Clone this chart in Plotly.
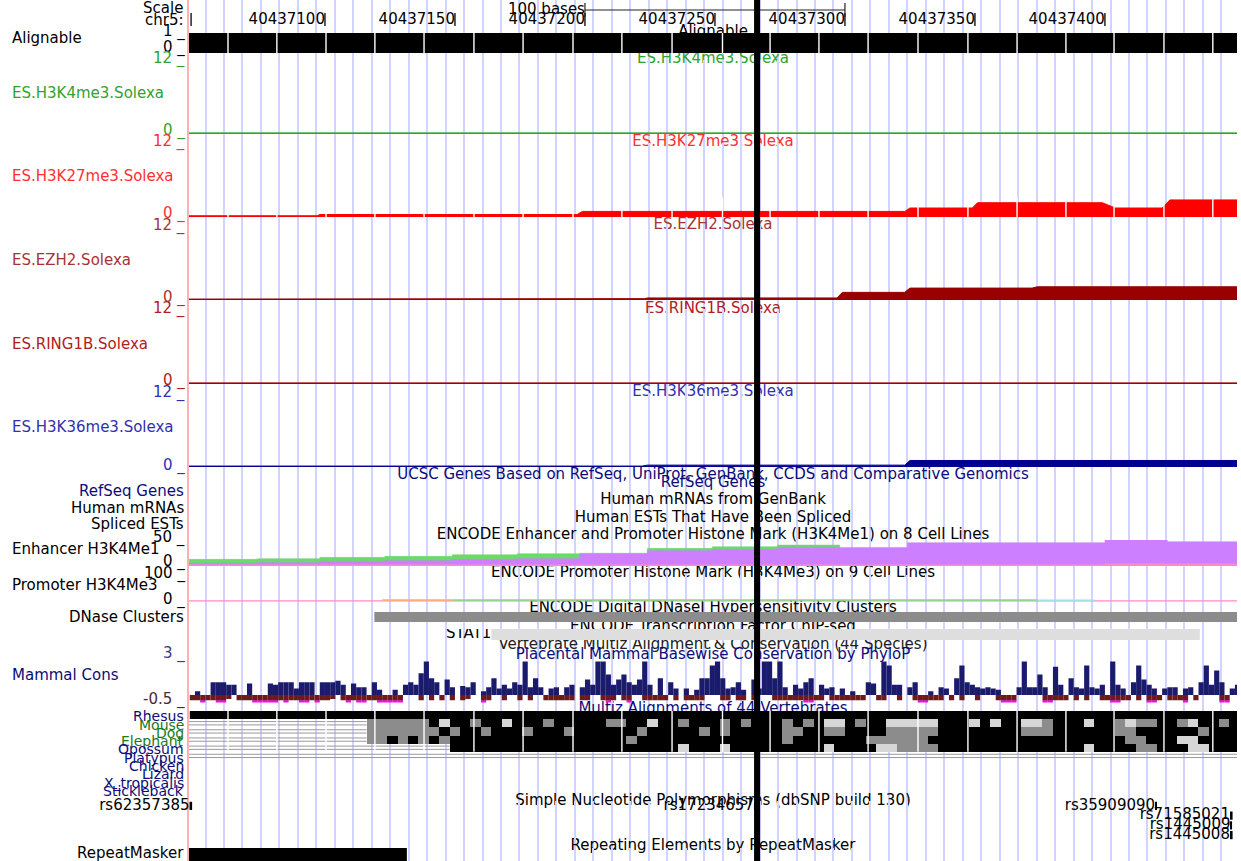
import plotly.graph_objects as go

W, H = 1241, 861
X0, X1 = 40437047.7, 40437450.8          # visible window on chr5 (bp)
PX_L, PX_R = 189, 1237                    # data area (pixels)
XC = (X0 + X1) / 2
FONT = "DejaVu Sans"
FS = 15
FS_SP = 14
GRID0, GRID_STEP = 40437054.05, 7.104     # browser guide lines (bp)

# ------------------------------------------------------------------ data
ruler_ticks = [40437100, 40437150, 40437200, 40437250, 40437300, 40437350, 40437400]
ruler_start = 40437048.5
scale_bar = [40437200, 40437300]
scale_label = "100 bases"

image_seams = [40437062.7, 40437081.5, 40437100.4, 40437119.2, 40437138.1, 40437157.3,
               40437176.2, 40437195.4, 40437214.2, 40437233.5, 40437252.9, 40437271.2,
               40437290.0, 40437308.9, 40437328.1, 40437347.3, 40437366.2, 40437385.0,
               40437403.5, 40437422.7, 40437441.5]

align_start, align_end, align_value = 40437047, 40437452, 1

k4_pos = [40437047, 40437452]
k4_val = [0.18, 0.18]
k27_pos = [40437047, 40437097, 40437098, 40437197, 40437199, 40437323, 40437325,
           40437349, 40437351, 40437399, 40437404, 40437422, 40437425, 40437452]
k27_val = [0.2, 0.2, 0.4, 0.4, 0.9, 0.9, 1.45, 1.45, 2.3, 2.3, 1.45, 1.45, 2.75, 2.75]
ezh2_pos = [40437047, 40437197, 40437198, 40437223, 40437224, 40437297, 40437299,
            40437323, 40437325, 40437372, 40437374, 40437452]
ezh2_val = [0.15, 0.15, 0.22, 0.22, 0.33, 0.33, 1.23, 1.23, 1.92, 1.92, 2.13, 2.13]
ring_pos = [40437047, 40437452]
ring_val = [0.18, 0.18]
k36_pos = [40437047, 40437222, 40437224, 40437323, 40437325, 40437452]
k36_val = [0.15, 0.15, 0.3, 0.3, 1.05, 1.05]

enh_edges = [40437047, 40437074, 40437098, 40437123, 40437149, 40437174, 40437198, 40437224,
             40437249, 40437274, 40437298, 40437324, 40437400, 40437424, 40437452]
enh_purple = [5.1, 6.4, 9.0, 10.2, 12.8, 14.1, 23.4, 29.4, 32.0, 35.8, 35.8, 44.8, 49.9, 46.7]
enh_green = [12.8, 14.1, 16.6, 18.6, 21.8, 23.7, 24.5, 33.9, 37.1, 40.3, 0, 0, 0, 0]
enh_pink = [2.5, 2.5, 2.5, 2.5, 2.5, 2.5, 2.5, 2.5, 2.5, 2.5, 2.5, 2.5, 4.5, 4.5]

prom_base_pos = [40437047, 40437452]
prom_base_val = [0.5, 0.5]
prom_cell = ["A", "B", "C"]
prom_start = [40437122, 40437149, 40437374]
prom_end = [40437149, 40437374, 40437396]
prom_val = [6, 6, 5]

dnase_start, dnase_end = 40437119, 40437452
tf_name, tf_start, tf_end = "STAT1", 40437164, 40437436.5

cons_start, cons_bin = 40437048, 2
cons_pos = [0, 0.3, 0, 0, 1.0, 1.0, 1.0, 0.8, 0.8, 0, 0, 0.9, 0, 0, 0, 0.9, 0.8, 1.0, 1.0, 1.0,
            0.5, 1.0, 1.0, 1.0, 0, 1.0, 1.0, 1.0, 1.1, 0.8, 0, 0.9, 0.6, 0.6, 0, 1.0, 0.4, 0, 0, 0.4,
            0, 0.8, 1.0, 0.8, 1.7, 2.6, 1.3, 1.0, 0, 1.2, 0.6, 0, 0.7, 0.6, 1.0, 0, 0.3, 0.6, 1.3, 0.5,
            0.8, 0.5, 1.0, 0.8, 2.6, 0.6, 1.3, 0.6, 0, 0.5, 0.6, 0, 0.6, 0.8, 0, 0.6, 1.2, 0.8, 2.6, 2.6,
            1.6, 0.8, 1.2, 1.6, 1.0, 0.8, 1.2, 2.6, 0.8, 0, 1.3, 0, 1.0, 0.5, 0, 0.5, 0, 0.4, 1.3, 1.3,
            2.3, 2.6, 1.3, 0.5, 0.6, 1.0, 0.4, 0, 1.2, 0.5, 2.6, 2.6, 1.3, 2.6, 0.6, 0, 0.8, 0.5, 1.0, 1.3,
            0, 0.8, 0.5, 0.6, 0, 0.5, 0, 0.3, 0, 0, 1.0, 0.9, 0, 2.6, 2.3, 0.8, 0.8, 0, 0.6, 1.0,
            0, 0, 0.3, 0, 0.6, 0.5, 0, 1.3, 2.3, 1.0, 0.8, 0.6, 0.5, 0.6, 0.5, 0.4, 0, 0, 0, 0.6,
            2.6, 0.6, 0.6, 1.6, 0.6, 0, 2.2, 0.8, 0, 1.3, 0.6, 0.5, 2.3, 0.6, 0.5, 0.8, 0, 2.6, 0.8, 0.5,
            0, 1.0, 2.3, 1.2, 0.8, 0.5, 0, 0.5, 0.6, 0.6, 0, 0.5, 0.6, 0, 1.0, 2.3, 0.8, 1.9, 1.0, 0,
            0.5, 0.8]
cons_neg = [-0.4, -0.4, -0.7, -0.4, -0.4, -0.7, -0.7, -0.3, 0, -0.4, -0.4, -0.4, -0.7, -0.7, -0.7, -0.7, -0.7, -0.4, -0.7, -0.4,
            -0.4, -0.7, -0.7, -0.4, -0.7, -0.4, -0.4, -0.3, 0, -0.4, -0.7, -0.4, -0.7, -0.7, -0.4, -0.4, -0.7, -0.7, -0.7, -0.7,
            -0.7, 0, 0, 0, -0.4, 0, -0.4, 0, -0.4, 0, -0.4, 0, -0.4, -0.3, 0, 0, -0.7, -0.4, 0, 0,
            -0.4, 0, 0, -0.4, 0, -0.4, 0, 0, -0.4, -0.4, -0.4, -0.4, -0.4, -0.4, 0, -0.4, -0.4, 0, 0, -0.4,
            -0.7, -0.4, 0, -0.4, -0.7, 0, 0, -0.4, -0.4, -0.4, -0.4, -0.4, 0, -0.4, 0, -0.4, -0.4, -0.4, -0.4, 0,
            0, 0, -0.4, -0.4, 0, -0.4, -0.4, 0, -0.4, 0, 0, 0, -0.4, -0.4, -0.4, -0.4, -0.4, -0.4, -0.7, -0.7,
            -0.4, -0.4, 0, -0.4, -0.4, -0.4, -0.4, -0.4, -0.4, -0.4, 0, 0, -0.4, -0.4, 0, 0, -0.4, 0, 0, -0.4,
            -0.7, -0.7, -0.4, -0.4, -0.4, 0, -0.4, 0, -0.4, 0, 0, -0.4, 0, 0, 0, -0.4, -0.7, -0.7, -0.7, 0,
            0, 0, 0, 0, -0.7, -0.7, -0.4, -0.4, -0.4, 0, -0.4, 0, -0.4, 0, 0, -0.4, -0.4, -0.7, -0.7, -0.4,
            -0.4, 0, -0.4, 0, -0.7, -0.7, -0.4, 0, -0.4, -0.4, -0.4, -0.7, 0, -0.4, 0, 0, 0, 0, -0.7, -0.7,
            0, 0]

species = ["Rhesus", "Mouse", "Dog", "Elephant", "Opossum", "Platypus",
           "Chicken", "Lizard", "X_tropicalis", "Stickleback"]
multiz_start, multiz_bin = 40437048, 4
multiz_rows = [
    "B" * 101,
    "." * 17 + "ggggggBlBB" + "gBBlBBBgBB" + "BBBggBBlBB" + "gBBBgBgBBB" + "gBgBllBgBB"
    + "lllllBBBlB" + "lBBllgBBBl" + "BBglggBBgl" + "BBgB",
    "." * 17 + "gggggggBgB" + "BgBBBgBBBg" + "BBBBBBgBBB" + "BBgBgBBBBB" + "ggBBggBBBB"
    + "gggggBBBBB" + "BBBgggBBBB" + "BBggBBBBBB" + "gBBB",
    "." * 17 + "ggBgBgBgBB" + "BBBBBBBBBB" + "BBBBBgBBBB" + "BBBBBBBBBB" + "gBBBBBBBgg"
    + "ggggBBBBBB" + "BBBBBBBBBB" + "BBBggBBBll" + "BBBB",
    "." * 25 + "BBBBBBBBBB" + "BBBBBBBBBB" + "BBlBBBlBBB" + "BBBBBBlBBB" + "BllggggBBB"
    + "BBBBBBBBBB" + "BlBBBBggBB" + "BllBBB",
]
unaligned_row = [1, 2, 3, 4, 5]
unaligned_end = [40437116, 40437116, 40437116, 40437148, 40437452]

snp_names = ["rs62357385", "rs17234657", "rs35909090", "rs71585021", "rs1445009", "rs1445008"]
snp_pos = [40437048.4, 40437265.5, 40437419.5, 40437448.6, 40437448.6, 40437448.6]
snp_row = [0, 0, 0, 1, 2, 3]
snp_len = [1.0, 1.0, 0.4, 1.0, 0.6, 1.0]

rmsk_start, rmsk_end = 40437047, 40437131.5
highlight_pos = 40437266.2

# ------------------------------------------------------------------ styles
GRID = "#d3d3ff"
C_K4 = "#2ea32e"
C_K27 = "#ff0000"
C_K27_T = "#ff3030"
C_EZH2 = "#990000"
C_EZH2_T = "#a83232"
C_RING = "#a00000"
C_RING_T = "#b02020"
C_K36 = "#000090"
C_K36_T = "#3030b0"
NAVY = "#0c0c78"
SP_GREEN = "#1a7a1a"
C_PURPLE = "#cc80ff"
C_EGREEN = "#6cd96c"
C_PINK = "#ff88c8"
PROM_COLORS = {"A": "#ffb060", "B": "#80dd80", "C": "#a8dcef"}
C_CONS_POS = "#1b1b6e"
C_CONS_NEG = "#6e1a1a"
C_CLIP = "#ff00ff"
CONS_CLIP = -0.45

# track bands: name, top px, bottom px, value range
TRACKS = [
    ("ruler", 0, 28, [28, 0]),
    ("align", 33, 53, [0, 1]),
    ("k4", 59.5, 134, [0, 12]),
    ("k27", 142.5, 217, [0, 12]),
    ("ezh2", 225.5, 300, [0, 12]),
    ("ring", 309, 384, [0, 12]),
    ("k36", 392.5, 467, [0, 12]),
    ("enh", 540, 566, [0, 50]),
    ("prom", 575, 601.5, [0, 100]),
    ("dnase", 612, 622, [0, 1]),
    ("tf", 629, 640, [0, 1]),
    ("cons", 652.54, 703, [-0.62, 3.3]),
    ("multiz", 711, 760, [6, 0]),
    ("snp", 801, 840, [4, 0]),
    ("rmsk", 848, 861, [0, 1]),
]

fig = go.Figure()
layout = dict(
    width=W, height=H, margin=dict(l=0, r=0, t=0, b=0, pad=0),
    paper_bgcolor="white", plot_bgcolor="rgba(0,0,0,0)", showlegend=False, barmode="overlay",
    font=dict(family=FONT, size=FS),
    xaxis=dict(domain=[PX_L / W, PX_R / W], range=[X0, X1], anchor="y",
               showgrid=True, gridcolor=GRID, gridwidth=1.6, tick0=GRID0, dtick=GRID_STEP,
               showticklabels=False, ticks="", zeroline=False, showline=False, fixedrange=True),
    yaxis=dict(domain=[0, 1], range=[H, 0], anchor="x", showgrid=False, zeroline=False,
               showticklabels=False, ticks="", showline=True, linecolor="#ffb0b0",
               linewidth=2, fixedrange=True),
)
AX = {}
for i, (name, top, bot, rng) in enumerate(TRACKS):
    n = i + 2
    AX[name] = f"y{n}"
    layout[f"yaxis{n}"] = dict(domain=[1 - bot / H, 1 - top / H], range=rng, anchor="x",
                               visible=False, showgrid=False, zeroline=False, fixedrange=True)


def add(tr, track):
    tr.update(xaxis="x", yaxis=AX[track] if track != "main" else "y",
              hoverinfo="skip", showlegend=False)
    fig.add_trace(tr)


def seg_xy(xpairs, ypairs):
    xs, ys = [], []
    for (a, b), (c, d) in zip(xpairs, ypairs):
        xs += [a, b, None]
        ys += [c, d, None]
    return xs, ys


# ------------------------------------------------------------------ centre labels (under the highlight)
center_labels = [
    ("Alignable", 32.5, "black"),
    ("ES.H3K4me3.Solexa", 59.5, C_K4),
    ("ES.H3K27me3.Solexa", 142.5, C_K27_T),
    ("ES.EZH2.Solexa", 225.5, C_EZH2_T),
    ("ES.RING1B.Solexa", 309, C_RING_T),
    ("ES.H3K36me3.Solexa", 392.5, C_K36_T),
    ("UCSC Genes Based on RefSeq, UniProt, GenBank, CCDS and Comparative Genomics", 475.5, NAVY),
    ("RefSeq Genes", 483.5, NAVY),
    ("Human mRNAs from GenBank", 500.5, "black"),
    ("Human ESTs That Have Been Spliced", 518.5, "black"),
    ("ENCODE Enhancer and Promoter Histone Mark (H3K4Me1) on 8 Cell Lines", 535.5, "black"),
    ("ENCODE Promoter Histone Mark (H3K4Me3) on 9 Cell Lines", 573.5, "black"),
    ("ENCODE Digital DNaseI Hypersensitivity Clusters", 608, "black"),
    ("ENCODE Transcription Factor ChIP-seq", 627, "black"),
    ("Vertebrate Multiz Alignment & Conservation (44 Species)", 645.5, "#202020"),
    ("Multiz Alignments of 44 Vertebrates", 709.5, NAVY),
    ("Simple Nucleotide Polymorphisms (dbSNP build 130)", 801, "black"),
    ("Repeating Elements by RepeatMasker", 846, "black"),
]
add(go.Scatter(x=[XC] * len(center_labels), y=[c[1] for c in center_labels],
               text=[c[0] for c in center_labels], mode="text", textposition="middle center",
               textfont=dict(family=FONT, size=FS, color=[c[2] for c in center_labels])), "main")

# ------------------------------------------------------------------ ruler
xs, ys = seg_xy([(t, t) for t in ruler_ticks + [ruler_start]],
                [(13, 26)] * (len(ruler_ticks) + 1))
add(go.Scatter(x=xs, y=ys, mode="lines", line=dict(color="black", width=1.3)), "ruler")
add(go.Scatter(x=ruler_ticks, y=[20] * len(ruler_ticks), mode="text",
               text=[str(t) for t in ruler_ticks], textposition="middle left",
               textfont=dict(family=FONT, size=FS, color="black")), "ruler")
xs, ys = seg_xy([(scale_bar[0], scale_bar[0]), (scale_bar[0], scale_bar[1]), (scale_bar[1], scale_bar[1])],
                [(3, 17), (10, 10), (3, 17)])
add(go.Scatter(x=xs, y=ys, mode="lines", line=dict(color="#222222", width=1.2)), "ruler")
add(go.Scatter(x=[scale_bar[0]], y=[10], mode="text", text=[scale_label], cliponaxis=False,
               textposition="middle left", textfont=dict(family=FONT, size=FS, color="black")), "ruler")

# ------------------------------------------------------------------ alignable
add(go.Bar(x=[(align_start + align_end) / 2], y=[align_value], width=[align_end - align_start],
           base=[0], marker=dict(color="black", line=dict(width=0))), "align")

# ------------------------------------------------------------------ ES Solexa wiggles
for pos, val, col, trk in [(k4_pos, k4_val, C_K4, "k4"), (k27_pos, k27_val, C_K27, "k27"),
                           (ezh2_pos, ezh2_val, C_EZH2, "ezh2"), (ring_pos, ring_val, C_RING, "ring"),
                           (k36_pos, k36_val, C_K36, "k36")]:
    add(go.Scatter(x=pos, y=val, mode="lines", fill="tozeroy", fillcolor=col,
                   line=dict(color=col, width=1)), trk)

# ------------------------------------------------------------------ ENCODE H3K4Me1 / H3K4Me3
for vals, col in [(enh_green, C_EGREEN), (enh_purple, C_PURPLE), (enh_pink, C_PINK)]:
    add(go.Scatter(x=enh_edges, y=vals + [vals[-1]], mode="lines", line_shape="hv",
                   fill="tozeroy", fillcolor=col, line=dict(color=col, width=0.5)), "enh")
add(go.Scatter(x=prom_base_pos, y=prom_base_val, mode="lines",
               line=dict(color=C_PINK, width=2)), "prom")
for cell, s, e, v in zip(prom_cell, prom_start, prom_end, prom_val):
    add(go.Scatter(x=[s, e], y=[v, v], mode="lines",
                   line=dict(color=PROM_COLORS[cell], width=1.5)), "prom")

# ------------------------------------------------------------------ DNase / TF
add(go.Bar(x=[(dnase_start + dnase_end) / 2], y=[1], base=[0], width=[dnase_end - dnase_start],
           marker=dict(color="#8c8c8c", line=dict(width=0))), "dnase")
add(go.Bar(x=[(tf_start + tf_end) / 2], y=[1], base=[0], width=[tf_end - tf_start],
           marker=dict(color="#dedede", line=dict(width=0))), "tf")
add(go.Scatter(x=[tf_start], y=[0.5], mode="text", text=[tf_name], textposition="middle left",
               textfont=dict(family=FONT, size=FS, color="black")), "tf")

# ------------------------------------------------------------------ conservation
cons_x = [cons_start + cons_bin * (i + 0.5) for i in range(len(cons_pos))]
add(go.Bar(x=cons_x, y=cons_pos, base=0, width=cons_bin,
           marker=dict(color=C_CONS_POS, line=dict(width=0))), "cons")
add(go.Bar(x=cons_x, y=[max(v, CONS_CLIP) for v in cons_neg], base=0, width=cons_bin,
           marker=dict(color=C_CONS_NEG, line=dict(width=0))), "cons")
clip_x = [x for x, v in zip(cons_x, cons_neg) if v < -0.5]
add(go.Bar(x=clip_x, y=[-0.12] * len(clip_x), base=CONS_CLIP, width=cons_bin,
           marker=dict(color=C_CLIP, line=dict(width=0))), "cons")
# track title drawn above the bars (just over the 3.0 line)
add(go.Scatter(x=[XC], y=[3.1], mode="text", cliponaxis=False, textposition="middle center",
               text=["Placental Mammal Basewise Conservation by PhyloP"],
               textfont=dict(family=FONT, size=FS, color=NAVY)), "cons")

# ------------------------------------------------------------------ multiz
code = {".": None, "l": 0, "g": 1, "B": 2}
ncol = len(multiz_rows[0])
mz_edges = [min(multiz_start + multiz_bin * c, 40437452) for c in range(ncol + 1)]
add(go.Heatmap(x=mz_edges, y=list(range(len(multiz_rows) + 1)),
               z=[[code[ch] for ch in row] for row in multiz_rows], zmin=0, zmax=2,
               colorscale=[[0, "#d6d6d6"], [0.25, "#d6d6d6"], [0.25, "#8c8c8c"], [0.75, "#8c8c8c"],
                           [0.75, "#000000"], [1, "#000000"]], showscale=False), "multiz")
pairs_x, pairs_y = [], []
for r, e in zip(unaligned_row, unaligned_end):
    for off in (0.3, 0.7):
        pairs_x.append((multiz_start - 1, e))
        pairs_y.append((r + off, r + off))
xs, ys = seg_xy(pairs_x, pairs_y)
add(go.Scatter(x=xs, y=ys, mode="lines", line=dict(color="#9a9a9a", width=1)), "multiz")

# image seams (white hairlines) through alignable, H3K27me3 and multiz blocks
for trk, lo, hi in [("align", 0, 1), ("k27", 0, 3.2), ("multiz", 0, 5)]:
    xs, ys = seg_xy([(s, s) for s in image_seams], [(lo, hi)] * len(image_seams))
    add(go.Scatter(x=xs, y=ys, mode="lines", line=dict(color="white", width=1.4)), trk)

# ------------------------------------------------------------------ SNPs
add(go.Bar(x=snp_pos, y=[0.84] * len(snp_pos), base=[r + 0.08 for r in snp_row], width=snp_len,
           marker=dict(color="black", line=dict(width=0))), "snp")
add(go.Scatter(x=[p - w / 2 for p, w in zip(snp_pos, snp_len)], y=[r + 0.5 for r in snp_row],
               mode="text", text=snp_names, textposition="middle left", cliponaxis=False,
               textfont=dict(family=FONT, size=FS, color="black")), "snp")

# ------------------------------------------------------------------ RepeatMasker
add(go.Bar(x=[(rmsk_start + rmsk_end) / 2], y=[1], base=[0], width=[rmsk_end - rmsk_start],
           marker=dict(color="black", line=dict(width=0))), "rmsk")

fig.update_layout(**layout)

# highlight line on top of everything
fig.add_shape(type="line", xref="x", yref="paper", x0=highlight_pos, x1=highlight_pos,
              y0=0, y1=1, line=dict(color="black", width=6), layer="above")

# ------------------------------------------------------------------ left labels
R, L = 187, 10
left_labels = [
    ("Scale", 185, 8, "right", "black"),
    ("chr5:", 186, 19.5, "right", "black"),
    ("Alignable", L, 38, "left", "black"),
    ("1 _", R, 31, "right", "black"),
    ("0 _", R, 48, "right", "black"),
    ("12 _", R, 59, "right", C_K4),
    ("ES.H3K4me3.Solexa", L, 93, "left", C_K4),
    ("0 _", R, 131, "right", C_K4),
    ("12 _", R, 142, "right", C_K27_T),
    ("ES.H3K27me3.Solexa", L, 176, "left", C_K27_T),
    ("0 _", R, 214, "right", C_K27_T),
    ("12 _", R, 225, "right", C_EZH2_T),
    ("ES.EZH2.Solexa", L, 260, "left", C_EZH2_T),
    ("0 _", R, 297, "right", C_EZH2_T),
    ("12 _", R, 309, "right", C_RING_T),
    ("ES.RING1B.Solexa", L, 344, "left", C_RING_T),
    ("0 _", R, 381, "right", C_RING_T),
    ("12 _", R, 392, "right", C_K36_T),
    ("ES.H3K36me3.Solexa", L, 427, "left", C_K36_T),
    ("0 _", R, 465, "right", C_K36_T),
    ("RefSeq Genes", 186, 491, "right", NAVY),
    ("Human mRNAs", 186, 508, "right", "black"),
    ("Spliced ESTs", 186, 524, "right", "black"),
    ("50 _", R, 537, "right", "black"),
    ("Enhancer H3K4Me1", L, 549, "left", "black"),
    ("0 _", R, 561, "right", "black"),
    ("100 _", R, 573, "right", "black"),
    ("Promoter H3K4Me3", L, 585, "left", "black"),
    ("0 _", R, 599, "right", "black"),
    ("DNase Clusters", 186, 617, "right", "black"),
    ("3 _", R, 653, "right", "#3c3c78"),
    ("Mammal Cons", L, 675, "left", NAVY),
    ("-0.5 _", R, 699, "right", "#4a2a3a"),
    ("RepeatMasker", 186, 853, "right", "black"),
]
for t, x, y, anc, col in left_labels:
    fig.add_annotation(x=x / W, y=1 - y / H, xref="paper", yref="paper", text=t, showarrow=False,
                       xanchor=anc, yanchor="middle", font=dict(family=FONT, size=FS, color=col))

species_y = [716, 725, 733, 741, 749, 758, 766, 774, 783, 791]
species_col = [NAVY, SP_GREEN, SP_GREEN, SP_GREEN, NAVY, NAVY, NAVY, NAVY, NAVY, NAVY]
for t, y, col in zip(species, species_y, species_col):
    fig.add_annotation(x=186 / W, y=1 - y / H, xref="paper", yref="paper", text=t, showarrow=False,
                       xanchor="right", yanchor="middle", font=dict(family=FONT, size=FS_SP, color=col))

fig.write_html("out.html", config={"displayModeBar": False},
               post_script="document.body.style.margin='0px';")
